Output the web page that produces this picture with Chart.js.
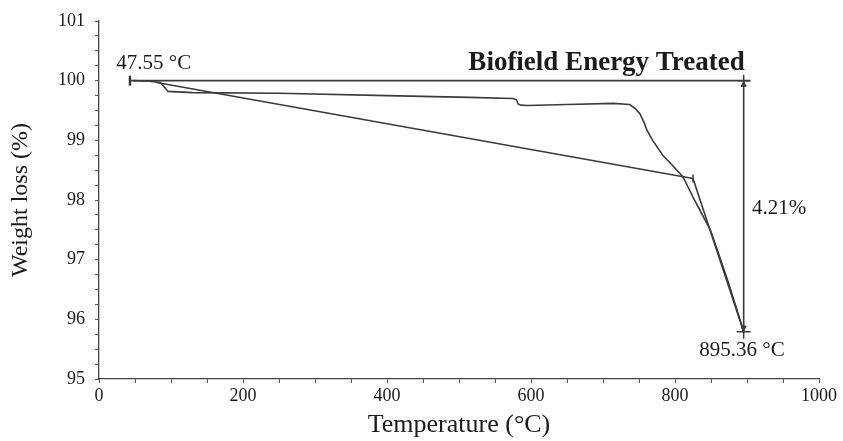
<!DOCTYPE html>
<html>
<head>
<meta charset="utf-8">
<script src="https://cdn.jsdelivr.net/npm/chart.js@4.4.0/dist/chart.umd.min.js"></script>
<style>
  html, body { margin: 0; padding: 0; background: #fff; }
  #wrap { width: 843px; height: 441px; }
</style>
</head>
<body>
<div id="wrap"><canvas id="tgaChart" width="843" height="441"></canvas></div>
<script>
// TGA curve of the treated sample
const tgaTemp = [47.55, 70, 85, 96, 130, 250, 400, 515, 575, 580, 582, 586, 595, 650, 714, 737, 745, 751, 757, 761, 769, 783, 795, 811, 825, 849, 860, 874, 885, 895.36];
const tgaWeight = [100.0, 99.99, 99.97, 99.82, 99.80, 99.79, 99.75, 99.72, 99.70, 99.68, 99.61, 99.59, 99.585, 99.60, 99.62, 99.60, 99.53, 99.45, 99.30, 99.17, 99.00, 98.75, 98.60, 98.39, 98.05, 97.50, 97.12, 96.62, 96.20, 95.79];

// construction lines (onset baseline, tangent, reference level, drop)
const baseTemp = [80, 825];
const baseWeight = [99.97, 98.36];
const tangentTemp = [825, 895.36];
const tangentWeight = [98.36, 95.79];
const refTemp = [43, 905];
const refWeight = [100, 100];
const dropTemp = [895.36, 895.36];
const dropWeight = [100, 95.79];

// axis ticks
const xLabels = [0, 200, 400, 600, 800, 1000];
const yLabels = [95, 96, 97, 98, 99, 100, 101];

const lineColor = '#3a3a3a';
const serif = "'Liberation Serif', 'Times New Roman', serif";

function toPoints(xs, ys) {
    return xs.map((x, i) => ({ x: x, y: ys[i] }));
}

// text notes drawn in data coordinates
const notes = [
    { text: '47.55 °C', x: 24, y: 100.28, align: 'left', font: '21px ' },
    { text: 'Biofield Energy Treated', x: 897, y: 100.3, align: 'right', font: 'bold 27px ' },
    { text: '4.21%', x: 907, y: 97.86, align: 'left', font: '21px ' },
    { text: '895.36 °C', x: 893, y: 95.48, align: 'center', font: '21px ' }
];

const notesPlugin = {
    id: 'notes',
    afterDatasetsDraw(chart) {
        const ctx = chart.ctx;
        const xs = chart.scales.x, ys = chart.scales.y;
        ctx.save();
        ctx.fillStyle = '#1a1a1a';
        ctx.textBaseline = 'middle';
        notes.forEach(n => {
            ctx.font = n.font + serif;
            ctx.textAlign = n.align;
            ctx.fillText(n.text, xs.getPixelForValue(n.x), ys.getPixelForValue(n.y));
        });
        ctx.restore();
    }
};

const simpleLine = (data) => ({
    data: data,
    showLine: true,
    borderColor: lineColor,
    borderWidth: 1.6,
    pointRadius: 0,
    tension: 0
});

const ctx = document.getElementById('tgaChart').getContext('2d');
new Chart(ctx, {
    type: 'scatter',
    data: {
        datasets: [
            simpleLine(toPoints(tgaTemp, tgaWeight)),
            simpleLine(toPoints(baseTemp, baseWeight)),
            simpleLine(toPoints(tangentTemp, tangentWeight)),
            simpleLine(toPoints(refTemp, refWeight)),
            simpleLine(toPoints(dropTemp, dropWeight)),
            {
                // markers: start bar, baseline end tick, crosses, arrow heads
                data: [
                    { x: 43, y: 100 },
                    { x: 825, y: 98.36 },
                    { x: 895.36, y: 100 },
                    { x: 895.36, y: 95.79 },
                    { x: 895.36, y: 99.93 },
                    { x: 895.36, y: 95.86 }
                ],
                showLine: false,
                pointStyle: ['line', 'line', 'cross', 'cross', 'triangle', 'triangle'],
                rotation: [90, 90, 0, 0, 0, 180],
                radius: [5, 4, 6, 7, 3, 3],
                borderColor: lineColor,
                backgroundColor: lineColor,
                borderWidth: [2.5, 1.5, 1.5, 1.5, 1, 1]
            }
        ]
    },
    options: {
        responsive: false,
        animation: false,
        layout: { padding: { top: 21, right: 24, left: 0, bottom: 0 } },
        plugins: {
            legend: { display: false },
            tooltip: { enabled: false }
        },
        scales: {
            x: {
                type: 'linear',
                min: 0,
                max: 1000,
                border: { color: '#444', width: 1.3 },
                grid: { drawOnChartArea: false, tickLength: 4, color: '#555' },
                ticks: {
                    stepSize: 50,
                    autoSkip: false,
                    maxRotation: 0,
                    padding: 2,
                    color: '#1a1a1a',
                    font: { family: serif, size: 18 },
                    callback: v => xLabels.includes(v) ? v : ''
                },
                title: {
                    display: true,
                    text: 'Temperature (°C)',
                    color: '#1a1a1a',
                    font: { family: serif, size: 26 },
                    padding: { top: 0, bottom: 0 }
                },
                afterFit: s => { s.height = 62; }
            },
            y: {
                type: 'linear',
                min: 95,
                max: 101,
                border: { color: '#444', width: 1.3 },
                grid: { drawOnChartArea: false, tickLength: 4, color: '#555' },
                ticks: {
                    stepSize: 0.25,
                    autoSkip: false,
                    padding: 10,
                    color: '#1a1a1a',
                    font: { family: serif, size: 18 },
                    callback: v => yLabels.includes(v) ? v : ''
                },
                title: {
                    display: true,
                    text: 'Weight loss (%)',
                    color: '#1a1a1a',
                    font: { family: serif, size: 24 },
                    padding: { top: 6, bottom: 0 }
                },
                afterFit: s => { s.width = 99; }
            }
        }
    },
    plugins: [notesPlugin]
});
</script>
</body>
</html>
